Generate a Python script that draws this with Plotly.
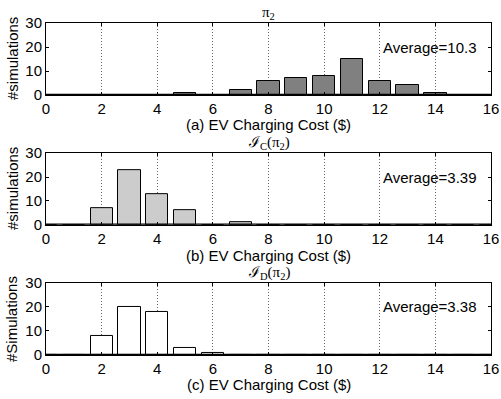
import plotly.graph_objects as go

# ---- data ----
bin_centers = list(range(0, 17))
counts_a = [0, 0, 0, 0, 0, 1, 0, 2, 6, 7, 8, 15, 6, 4, 1, 0, 0]
counts_b = [0, 0, 7, 23, 13, 6, 0, 1, 0, 0, 0, 0, 0, 0, 0, 0, 0]
counts_c = [0, 0, 8, 20, 18, 3, 1, 0, 0, 0, 0, 0, 0, 0, 0, 0, 0]
panel_titles = ["π<sub>2</sub>", "ℐ<sub>C</sub>(π<sub>2</sub>)", "ℐ<sub>D</sub>(π<sub>2</sub>)"]
x_titles = ["(a) EV Charging Cost ($)", "(b) EV Charging Cost ($)", "(c) EV Charging Cost ($)"]
y_titles = ["#simulations", "#simulations", "#Simulations"]
averages = ["Average=10.3", "Average=3.39", "Average=3.38"]
x_ticks = [0, 2, 4, 6, 8, 10, 12, 14, 16]
y_ticks = [0, 10, 20, 30]

fills = ["#808080", "#cccccc", "#ffffff"]
domains = [[0.783, 1.0], [0.392, 0.608], [0.0, 0.217]]
xtitle_y = [0.693, 0.301, -0.089]
FONT = "Liberation Sans, Arial, sans-serif"
SERIF = "Liberation Serif, DejaVu Serif, serif"

fig = go.Figure()
for i, counts in enumerate([counts_a, counts_b, counts_c]):
    sfx = "" if i == 0 else str(i + 1)
    fig.add_trace(go.Bar(
        x=bin_centers, y=counts, width=0.8,
        marker=dict(color=fills[i], line=dict(color="black", width=1)),
        xaxis="x" + sfx, yaxis="y" + sfx, showlegend=False,
    ))
    # thick baseline from histogram empty bins
    fig.add_trace(go.Scatter(
        x=[x_ticks[0], x_ticks[-1]], y=[0, 0], mode="lines",
        line=dict(color="black", width=2.5),
        xaxis="x" + sfx, yaxis="y" + sfx, showlegend=False, hoverinfo="skip",
    ))
    xa = dict(
        domain=[0, 1], range=[0, 16], tickvals=x_ticks, ticks="inside", ticklen=3,
        tickcolor="black", mirror="allticks", showline=True, linecolor="black", linewidth=1,
        showgrid=True, gridcolor="#666", griddash="1px,2px", gridwidth=1, zeroline=False,
        anchor="y" + sfx, automargin=False,
        tickfont=dict(size=15, family=FONT, color="black"),
    )
    ya = dict(
        domain=domains[i], range=[0, 30], tickvals=y_ticks, ticks="inside", ticklen=3,
        tickcolor="black", mirror="allticks", showline=True, linecolor="black", linewidth=1,
        showgrid=False, zeroline=False, anchor="x" + sfx, automargin=False,
        tickfont=dict(size=15, family=FONT, color="black"),
    )
    fig.update_layout(**{"xaxis" + sfx: xa, "yaxis" + sfx: ya})
    fig.add_annotation(
        text=averages[i], x=12.05, y=20, xref="x" + sfx, yref="y" + sfx,
        xanchor="left", yanchor="middle", showarrow=False,
        font=dict(size=15, family=FONT, color="black"),
    )
    # x-axis title
    fig.add_annotation(
        text=x_titles[i], x=0.5, y=xtitle_y[i], xref="paper", yref="paper",
        xanchor="center", yanchor="middle", showarrow=False,
        font=dict(size=15, family=FONT, color="black"),
    )
    # y-axis title
    fig.add_annotation(
        text=y_titles[i], x=-0.0764, y=sum(domains[i]) / 2, xref="paper", yref="paper",
        xanchor="center", yanchor="middle", textangle=-90, showarrow=False,
        font=dict(size=15, family=FONT, color="black"),
    )
    # panel title
    fig.add_annotation(
        text=panel_titles[i], x=0.5, y=domains[i][1], xref="paper", yref="paper",
        xanchor="center", yanchor="middle", yshift=10, showarrow=False,
        font=dict(size=15, family=SERIF, color="black"),
    )

fig.update_layout(
    width=501, height=399,
    margin=dict(l=46, r=10, t=23, b=44),
    paper_bgcolor="white", plot_bgcolor="white",
    bargap=0,
)
fig.write_html("out.html", config={"displayModeBar": False},
               post_script="document.body.style.margin='0';")
